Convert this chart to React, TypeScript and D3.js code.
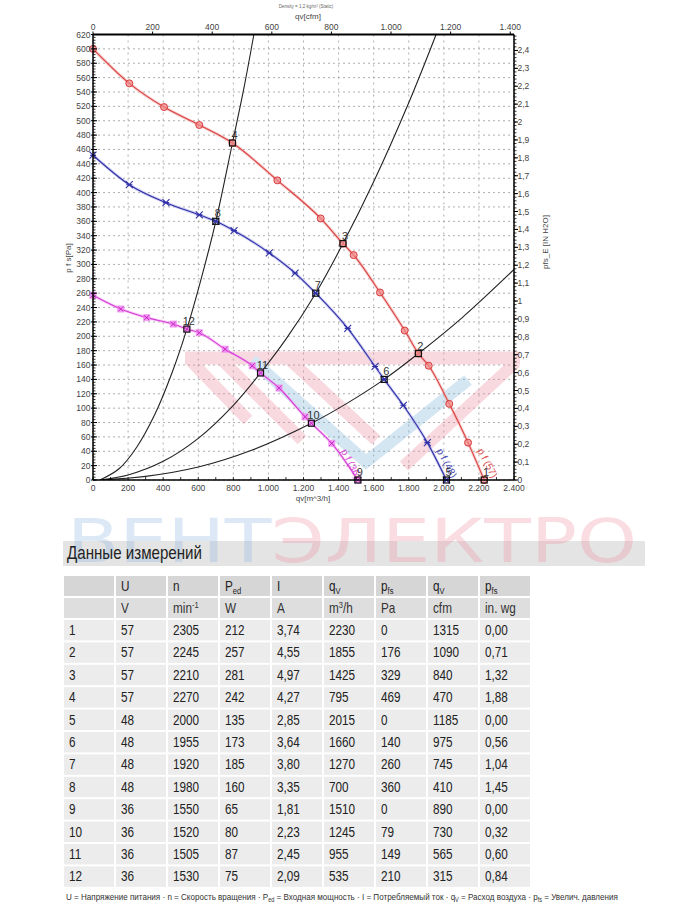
import * as d3 from "d3";

// fan curves: [qv m3/h, pfs Pa]
const fan57: [number, number][] = [
  [0, 600], [207, 552], [405, 519], [606, 494], [795, 469], [1051, 417], [1298, 364],
  [1425, 329], [1486, 313], [1636, 261], [1777, 208], [1855, 176], [1914, 159],
  [2031, 106], [2138, 52], [2230, 0],
];
const fan48: [number, number][] = [
  [0, 452], [207, 411], [416, 386], [606, 369], [700, 360], [804, 347], [1005, 316],
  [1152, 288], [1270, 260], [1452, 211], [1608, 158], [1660, 140], [1769, 104],
  [1906, 52], [2015, 0],
];
const fan36: [number, number][] = [
  [0, 257], [158, 238], [306, 226], [458, 217], [535, 210], [606, 205], [753, 182],
  [908, 159], [955, 149], [1061, 128], [1209, 88], [1245, 79], [1361, 51], [1510, 0],
];

// system curves
const sysA: [number, number][] = [
  [40, 0], [150, 16], [250, 46], [350, 90], [450, 149], [535, 210], [620, 283],
  [700, 360], [795, 469], [860, 545], [917, 620],
];
const sysB: [number, number][] = [
  [40, 0], [200, 7], [400, 26], [600, 58], [800, 104], [955, 149], [1100, 196],
  [1270, 260], [1425, 329], [1600, 415], [1800, 525], [1956, 620],
];
const sysC: [number, number][] = [
  [40, 0], [300, 5], [600, 18], [900, 41], [1245, 79], [1450, 107], [1660, 140],
  [1855, 176], [2100, 225], [2400, 293],
];

// measurement table
const rowNo = ["1", "2", "3", "4", "5", "6", "7", "8", "9", "10", "11", "12"];
const colU = ["57", "57", "57", "57", "48", "48", "48", "48", "36", "36", "36", "36"];
const colN = ["2305", "2245", "2210", "2270", "2000", "1955", "1920", "1980", "1550", "1520", "1505", "1530"];
const colPed = ["212", "257", "281", "242", "135", "173", "185", "160", "65", "80", "87", "75"];
const colI = ["3,74", "4,55", "4,97", "4,27", "2,85", "3,64", "3,80", "3,35", "1,81", "2,23", "2,45", "2,09"];
const colQv = [2230, 1855, 1425, 795, 2015, 1660, 1270, 700, 1510, 1245, 955, 535];
const colPfs = [0, 176, 329, 469, 0, 140, 260, 360, 0, 79, 149, 210];
const colCfm = ["1315", "1090", "840", "470", "1185", "975", "745", "410", "890", "730", "565", "315"];
const colInwg = ["0,00", "0,71", "1,32", "1,88", "0,00", "0,56", "1,04", "1,45", "0,00", "0,32", "0,60", "0,84"];

const M3H_PER_CFM = 1.699;
const PA_PER_INWG = 249.09;

const L = 93, R = 514, T = 34.5, B = 480;
const x = d3.scaleLinear().domain([0, 2400]).range([L, R]);
const y = d3.scaleLinear().domain([0, 620]).range([B, T]);
const xc = d3.scaleLinear().domain([0, 2400 / M3H_PER_CFM]).range([L, R]);
const yr = d3.scaleLinear().domain([0, 620 / PA_PER_INWG]).range([B, T]);

const loc = d3.formatLocale({ decimal: ",", thousands: ".", grouping: [3], currency: ["", ""] });
const fmtQ = loc.format(",");
const fmtR = (v: number) => String(+v.toFixed(1)).replace(".", ",");

const line = d3.line<[number, number]>().x(d => x(d[0])).y(d => y(d[1])).curve(d3.curveMonotoneX);
const sysLine = d3.line<[number, number]>().x(d => x(d[0])).y(d => y(d[1])).curve(d3.curveCatmullRom);

const axisFont = "'Liberation Sans', Arial, sans-serif";

// condensed text (Arial Narrow look) via horizontal scale
function NText({ x, y, size, fill = "#222", sq = 0.84, children }: any) {
  return (
    <text transform={`translate(${x},${y}) scale(${sq},1)`} fontSize={size} fontFamily={axisFont} fill={fill}>
      {children}
    </text>
  );
}

function Marker({ kind, cx, cy }: { kind: string; cx: number; cy: number }) {
  if (kind === "red")
    return <circle cx={cx} cy={cy} r={3.5} fill="#f28a8a" fillOpacity={0.75} stroke="#d83b3b" strokeWidth={1} />;
  if (kind === "blue")
    return (
      <g transform={`translate(${cx},${cy})`} stroke="#2f2fa8" strokeWidth={1.1}>
        <path d="M-3.5,-3.5L3.5,3.5M-3.5,3.5L3.5,-3.5M-3,0L3,0" />
      </g>
    );
  return (
    <g transform={`translate(${cx},${cy})`}>
      <rect x={-3.5} y={-3.5} width={7} height={7} fill="#f07cf0" fillOpacity={0.75} />
      <path d="M-2.5,-2.5L2.5,2.5M-2.5,2.5L2.5,-2.5" stroke="#c22cc2" strokeWidth={1} />
    </g>
  );
}

function Chart() {
  const yTicks = y.ticks(31);
  const xTicks = x.ticks(12);
  const xcTicks = xc.ticks(7);
  const yrTicks = yr.ticks(25);
  const yMinor = d3.range(0, 621, 4);
  const yrMinor = d3.range(0, 2.49, 0.02);
  const xMinor = d3.range(0, 2401, 100);

  const fans = [
    { data: fan57, color: "#d94040", halo: "#f3a3a3", kind: "red", label: "p f (57)" },
    { data: fan48, color: "#2f2fa8", halo: "#a9a9ea", kind: "blue", label: "p f (48)" },
    { data: fan36, color: "#d43ad4", halo: "#f3a6f3", kind: "magenta", label: "p f (36)" },
  ];

  return (
    <g>
      <defs>
        <clipPath id="plot">
          <rect x={L} y={T} width={R - L} height={B - T} />
        </clipPath>
      </defs>
      {/* grid */}
      {yTicks.map(t => (
        <line key={"gy" + t} x1={L} x2={R} y1={y(t)} y2={y(t)} stroke="#9a9a9a" strokeWidth={0.8} strokeDasharray="2,3" />
      ))}
      {xTicks.map(t => (
        <line key={"gx" + t} x1={x(t)} x2={x(t)} y1={T} y2={B} stroke="#9a9a9a" strokeWidth={0.8} strokeDasharray="2,4" />
      ))}

      {/* logo watermark */}
      <g opacity={0.32} strokeLinecap="butt" fill="none">
        <line x1={185} y1={358} x2={520} y2={358} stroke="#ee8aa2" strokeWidth={13} />
        <line x1={190} y1={360} x2={248} y2={420} stroke="#ee8aa2" strokeWidth={12} />
        <line x1={222} y1={360} x2={302} y2={440} stroke="#ee8aa2" strokeWidth={12} />
        <line x1={290} y1={360} x2={376} y2={440} stroke="#ee8aa2" strokeWidth={12} />
        <path d="M252,360L366,462L468,380" stroke="#80b4dc" strokeWidth={12} />
        <line x1={404} y1={466} x2={516} y2={362} stroke="#ee8aa2" strokeWidth={12} />
      </g>

      {/* system curves */}
      <g clipPath="url(#plot)">
        {[sysA, sysB, sysC].map((s, i) => (
          <path key={"s" + i} d={sysLine(s) || ""} fill="none" stroke="#222" strokeWidth={1.1} />
        ))}
      </g>

      {/* fan curves */}
      {fans.map(f => (
        <g key={f.kind}>
          <path d={line(f.data) || ""} fill="none" stroke={f.halo} strokeWidth={3} strokeOpacity={0.55} />
          <path d={line(f.data) || ""} fill="none" stroke={f.color} strokeWidth={1.1} />
          {f.data.map((d, i) => (
            <Marker key={i} kind={f.kind} cx={x(d[0])} cy={y(d[1])} />
          ))}
        </g>
      ))}

      {/* curve labels */}
      {fans.map(f => {
        const d = f.data[f.data.length - 2];
        return (
          <text key={"l" + f.kind} transform={`translate(${x(d[0]) + 9},${y(d[1]) + 8}) rotate(62)`}
            fontSize={10} fontFamily={axisFont} fill={f.color} opacity={0.9}>
            {f.label}
          </text>
        );
      })}

      {/* operating points */}
      {colQv.map((q, i) => (
        <g key={"op" + i}>
          <rect x={x(q) - 3} y={y(colPfs[i]) - 3} width={6} height={6} fill="none" stroke="#111" strokeWidth={1.2} />
          <text x={x(q) + 2} y={y(colPfs[i]) - 4} fontSize={11} fontFamily={axisFont} fill="#333" textAnchor="middle">
            {rowNo[i]}
          </text>
        </g>
      ))}

      {/* frame */}
      <line x1={L} x2={R} y1={T} y2={T} stroke="#000" strokeWidth={2} />
      <line x1={L} x2={R} y1={B} y2={B} stroke="#000" strokeWidth={1.3} />
      <line x1={L} x2={L} y1={T} y2={B} stroke="#000" strokeWidth={1.5} />
      <line x1={R} x2={R} y1={T} y2={B} stroke="#000" strokeWidth={1.5} />

      {/* left axis */}
      {yMinor.map(t => (
        <line key={"ym" + t} x1={L} x2={L + 2.5} y1={y(t)} y2={y(t)} stroke="#000" strokeWidth={0.8} />
      ))}
      {yTicks.map(t => (
        <g key={"yt" + t}>
          <line x1={L - 2} x2={L + 4} y1={y(t)} y2={y(t)} stroke="#000" strokeWidth={1} />
          <text x={L - 2.5} y={y(t) + 3} fontSize={8.5} fontFamily={axisFont} fill="#444" textAnchor="end">{t}</text>
        </g>
      ))}
      <text transform={`translate(71,258) rotate(-90)`} fontSize={8} fontFamily={axisFont} fill="#444" textAnchor="middle">
        p f s[Pa]
      </text>

      {/* right axis */}
      {yrMinor.map(t => (
        <line key={"rm" + t} x1={R} x2={R + 2.5} y1={yr(t)} y2={yr(t)} stroke="#000" strokeWidth={0.8} />
      ))}
      {yrTicks.map(t => (
        <g key={"rt" + t}>
          <line x1={R} x2={R + 4} y1={yr(t)} y2={yr(t)} stroke="#000" strokeWidth={1} />
          <text x={R + 3.5} y={yr(t) + 3} fontSize={8.5} fontFamily={axisFont} fill="#444">{fmtR(t)}</text>
        </g>
      ))}
      <text transform={`translate(548,242) rotate(-90)`} fontSize={8} fontFamily={axisFont} fill="#444" textAnchor="middle">
        pfs_E [IN H2O]
      </text>

      {/* bottom axis */}
      {xMinor.map(t => (
        <line key={"xm" + t} x1={x(t)} x2={x(t)} y1={B} y2={B - 3} stroke="#000" strokeWidth={0.8} />
      ))}
      {xTicks.map(t => (
        <text key={"xt" + t} x={x(t)} y={B + 11} fontSize={8.5} fontFamily={axisFont} fill="#444" textAnchor="middle">
          {fmtQ(t)}
        </text>
      ))}
      <text x={313} y={501} fontSize={8} fontFamily={axisFont} fill="#444" textAnchor="middle">qv[m^3/h]</text>

      {/* top axis */}
      {xcTicks.map(t => (
        <g key={"ct" + t}>
          <line x1={xc(t)} x2={xc(t)} y1={T} y2={T - 3} stroke="#000" strokeWidth={1} />
          <text x={xc(t)} y={T - 5} fontSize={8.5} fontFamily={axisFont} fill="#444" textAnchor="middle">{fmtQ(t)}</text>
        </g>
      ))}
      <text x={308} y={19} fontSize={8} fontFamily={axisFont} fill="#444" textAnchor="middle">qv[cfm]</text>
      <text x={306} y={8} fontSize={4.5} fontFamily={axisFont} fill="#666" textAnchor="middle">Density = 1,2 kg/m³ (Static)</text>
    </g>
  );
}

function Table() {
  const colX = [64, 116, 168, 220, 272, 324, 376, 428, 480];
  const colW = 50;
  const head1Y = 576, head2Y = 598, hh = 20, rowY0 = 620, pitch = 22.4, rh = 20.4;
  const cols = [rowNo, colU, colN, colPed, colI, colQv.map(String), colPfs.map(String), colCfm, colInwg];
  const tx = (i: number) => colX[i] + 5;
  const head = [["U"], ["n"], ["P", "ed"], ["I"], ["q", "V"], ["p", "fs"], ["q", "V"], ["p", "fs"]];
  const units = [["V"], ["min", "-1"], ["W"], ["A"], ["m", "3", "/h"], ["Pa"], ["cfm"], ["in. wg"]];
  return (
    <g>
      {/* heading band + watermark */}
      <rect x={63} y={541} width={582} height={25} fill="#e4e4e4" />
      <text x={67} y={562} fontSize={60} fontFamily="'DejaVu Sans', sans-serif" textLength={570}
        lengthAdjust="spacingAndGlyphs" opacity={0.3}>
        <tspan fill="#8db6df">ВЕНТ</tspan>
        <tspan fill="#ef8da5">ЭЛЕКТРО</tspan>
      </text>
      <NText x={67} y={559} size={18}>Данные измерений</NText>

      {colX.map((cx, i) => (
        <g key={"h" + i}>
          <rect x={cx} y={head1Y} width={colW} height={hh} fill="#d6d6d6" />
          <rect x={cx} y={head2Y} width={colW} height={hh} fill="#dedede" />
        </g>
      ))}
      {head.map((h, i) => (
        <NText key={"h1" + i} x={tx(i + 1)} y={head1Y + 15} size={14}>
          {h[0]}
          {h[1] && <tspan fontSize={9} dy={3}>{h[1]}</tspan>}
        </NText>
      ))}
      {units.map((u, i) => (
        <NText key={"u" + i} x={tx(i + 1)} y={head2Y + 15} size={14} fill="#333">
          {u[0]}
          {u[1] && <tspan fontSize={9} dy={-5}>{u[1]}</tspan>}
          {u[2] && <tspan dy={5}>{u[2]}</tspan>}
        </NText>
      ))}
      {rowNo.map((_, r) => (
        <g key={"r" + r}>
          {colX.map((cx, c) => (
            <g key={c}>
              <rect x={cx} y={rowY0 + r * pitch} width={colW} height={rh} fill="#ececec" />
              <NText x={tx(c)} y={rowY0 + r * pitch + 15} size={14}>{cols[c][r]}</NText>
            </g>
          ))}
        </g>
      ))}
      <NText x={66} y={900} size={9.5} fill="#333" sq={0.85}>
        U = Напряжение питания · n = Скорость вращения · P<tspan fontSize={6.5} dy={2}>ed</tspan>
        <tspan dy={-2}> = Входная мощность · I = Потребляемый ток · q</tspan>
        <tspan fontSize={6.5} dy={2}>V</tspan>
        <tspan dy={-2}> = Расход воздуха · p</tspan>
        <tspan fontSize={6.5} dy={2}>fs</tspan>
        <tspan dy={-2}> = Увелич. давления</tspan>
      </NText>
    </g>
  );
}

export default function App() {
  return (
    <svg width={700} height={910} style={{ position: "absolute", left: 0, top: 0, background: "#fff" }}>
      <rect width={700} height={910} fill="#fff" />
      <Chart />
      <Table />
    </svg>
  );
}
